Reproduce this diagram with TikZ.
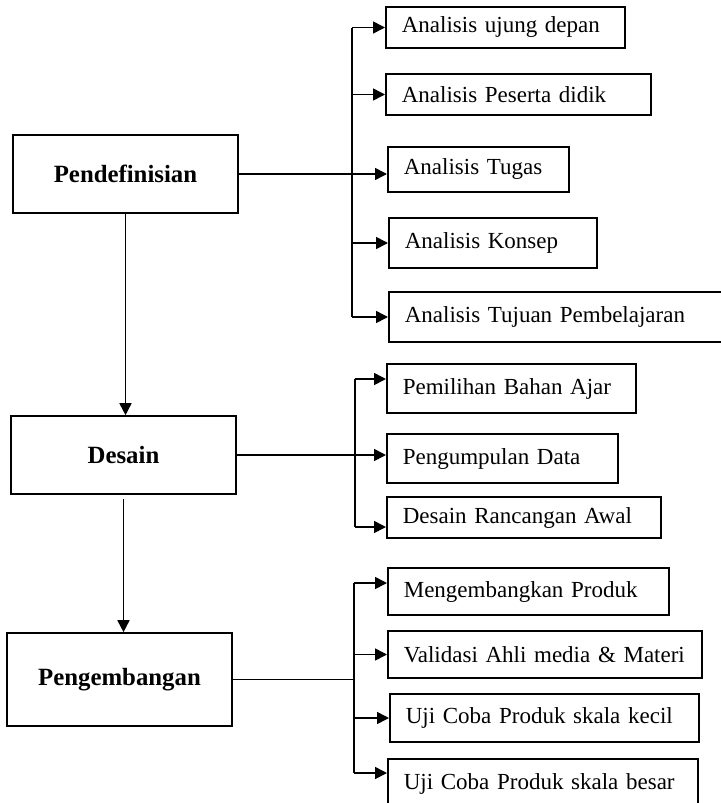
\documentclass[tikz,border=0pt]{standalone}
\usepackage{fontspec}
\setmainfont{Liberation Serif}
\usetikzlibrary{arrows.meta}

\tikzset{
	stage/.style={draw, font=\bfseries\fontsize{12.4pt}{14pt}\selectfont, minimum width=112.5pt, minimum height=#1},
	stage/.default=39pt,
	sub/.style={draw, anchor=west, align=left, inner xsep=8pt, minimum height=#1}
}

\begin{document}
\begin{tikzpicture}[x=0.5pt, y=-0.5pt, line width=0.8pt, >={Triangle[length=6pt,width=6pt]}, font=\fontsize{11.5pt}{13pt}\selectfont]
		\clip (0,0) rectangle (721,803);
		% tahapan
		\node [stage] (def) at (125.5,174) {Pendefinisian};
		\node [stage] (des) at (123.5,455) {Desain};
		\node [stage=46.5pt] (dev) at (119.5,679.5) {Pengembangan};
		% pendefinisian
		\node [sub=20.5pt, text width=103.5pt] (a1) at (385,27.5) {Analisis ujung depan};
		\node [sub=20.5pt, text width=116.5pt] (a2) at (385,94.5) {Analisis Peserta didik};
		\node [sub=22.5pt, text width=74.5pt] (a3) at (387,169.5) {Analisis Tugas};
		\node [sub=25pt, text width=88pt] (a4) at (388,243) {Analisis Konsep};
		\node [sub=25pt, text width=159pt] (a5) at (388,317) {Analisis Tujuan Pembelajaran};
		% desain
		\node [sub=24.5pt, text width=108.5pt] (b1) at (386,388.5) {Pemilihan Bahan Ajar};
		\node [sub=24.5pt, text width=99.5pt] (b2) at (386,458.5) {Pengumpulan Data};
		\node [sub=20.5pt, text width=121pt] (b3) at (386,517.5) {Desain Rancangan Awal};
		% pengembangan
		\node [sub=23.5pt, text width=124.5pt] (c1) at (387,591.5) {Mengembangkan Produk};
		\node [sub=23.5pt, text width=141pt] (c2) at (387,654.5) {Validasi Ahli media \& Materi};
		\node [sub=24pt, text width=138.5pt] (c3) at (389,718) {Uji Coba Produk skala kecil};
		\node [sub=25pt, text width=139pt] (c4) at (387,784) {Uji Coba Produk skala besar};

		% alur utama
		\draw [->] (def.south) -- (def.south |- des.north);
		\draw [->] ([yshift=-2pt]des.south) -- (des.south |- dev.north);

		% cabang pendefinisian
		\coordinate (busA) at (352,0);
		\draw [->] (def.east) -- (def.east -| a3.west);
		\draw (busA |- a1.west) -- (busA |- a5.west);
		\foreach \n in {a1,a2,a4,a5}
			\draw [->] (busA |- \n.west) -- (\n.west);

		% cabang desain
		\coordinate (busB) at (355,0);
		\coordinate (b1in) at ([yshift=4.75pt]b1.west);
		\coordinate (b3in) at ([yshift=-4.75pt]b3.west);
		\draw [->] (des.east) -- (des.east -| b2.west);
		\draw (busB |- b1in) -- (busB |- b3in);
		\draw [->] (busB |- b1in) -- (b1in);
		\draw [->] (busB |- b3in) -- (b3in);

		% cabang pengembangan
		\coordinate (busC) at (354,0);
		\coordinate (c1in) at ([yshift=4.25pt]c1.west);
		\coordinate (c4in) at ([yshift=5.5pt]c4.west);
		\draw (dev.east) -- (dev.east -| busC);
		\draw (busC |- c1in) -- (busC |- c4in);
		\draw [->] (busC |- c1in) -- (c1in);
		\draw [->] (busC |- c2.west) -- (c2.west);
		\draw [->] (busC |- c3.west) -- (c3.west);
		\draw [->] (busC |- c4in) -- (c4in);
	\end{tikzpicture}
\end{document}
